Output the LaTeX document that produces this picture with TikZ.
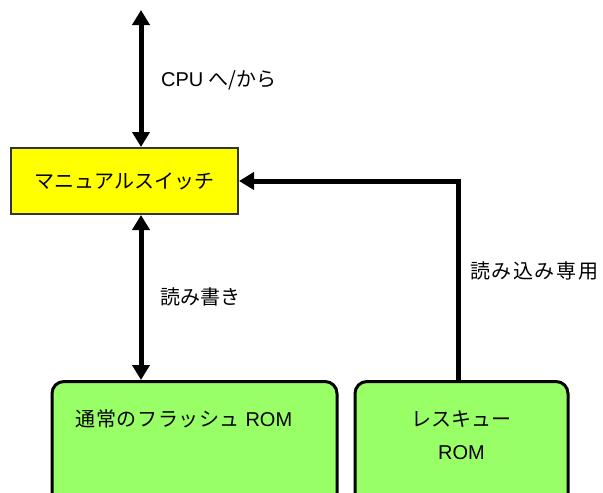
\documentclass[tikz,border=0pt]{standalone}
\usepackage{fontspec}
\setmainfont{Liberation Sans}
\newfontfamily\jp{Noto Sans CJK JP}
\usetikzlibrary{arrows.meta}
\definecolor{swyellow}{HTML}{FFFF00}
\definecolor{romgreen}{HTML}{99FF66}
\tikzset{
  switchbox/.style={draw=black!80, line width=2pt, fill=swyellow, rectangle, inner sep=0pt},
  rombox/.style={draw=black, line width=3pt, fill=romgreen, rectangle, rounded corners=12pt, inner sep=0pt},
  txt/.style={font=\fontsize{20}{26}\selectfont, inner sep=0pt},
  bus/.style={line width=5pt, miter limit=10, line join=miter},
  bothway/.style={bus, {Triangle[width=17pt,length=15pt]}-{Triangle[width=17pt,length=15pt]}},
  oneway/.style={bus, -{Triangle[width=17pt,length=15pt]}}
}
\begin{document}
\begin{tikzpicture}[x=1pt,y=-1pt]
\clip (0,0) rectangle (603,493);
\fill[white] (0,0) rectangle (603,493);
% boxes
\node[switchbox, minimum width=227pt, minimum height=66pt] (sw) at (124.5,181) {};
\node[txt] (swt) at (sw.center) {\jp マニュアルスイッチ};
\node[rombox, minimum width=285pt, minimum height=140pt, anchor=north] (rom1) at (194.5,380) {};
\node[txt] (rom1t) at (184,419) {{\jp\addfontfeatures{LetterSpace=3}通常のフラッシュ} ROM};
\node[rombox, minimum width=213pt, minimum height=140pt, anchor=north] (rom2) at (461.5,380) {};
\node[txt] (rom2a) at (461.5,419) {\jp レスキュー};
\node[txt] (rom2b) at (461.5,453) {ROM};
% connectors
\coordinate (cpu) at (141,10);
\coordinate (rx) at (458,0);
\draw[bothway] (cpu) -- (sw.north -| cpu);
\draw[bothway] (sw.south -| cpu) -- (rom1.north -| cpu);
\draw[oneway] (rom2.north -| rx) |- (sw.east);
% labels
\node[txt, anchor=west] (l1) at (161,80) {CPU {\jp へ/から}};
\node[txt, anchor=west] (l2) at (160,297) {\jp 読み書き};
\node[txt, anchor=west] (l3) at (470,271) {\jp\addfontfeatures{LetterSpace=8}読み込み専用};
\end{tikzpicture}
\end{document}
